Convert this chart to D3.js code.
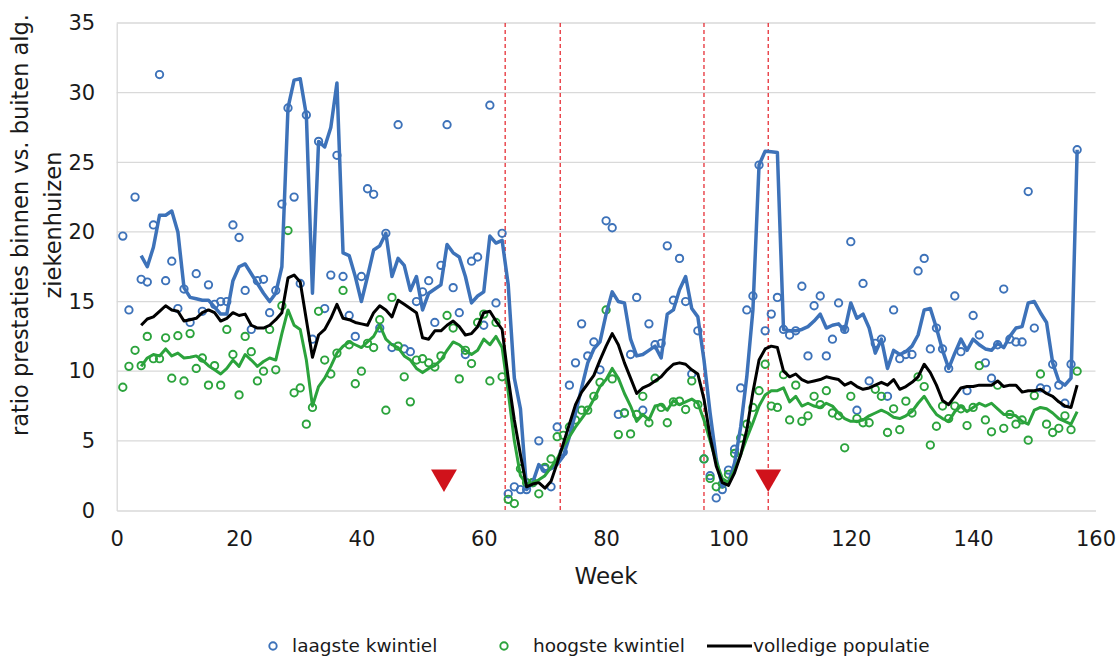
<!DOCTYPE html>
<html lang="nl">
  <head>
    <meta charset="UTF-8" />
    <title>Ratio prestaties</title>
    <script src="https://d3js.org/d3.v7.min.js"></script>
    <style>
      body { margin: 0; background: #fff; }
      text { font-family: "DejaVu Sans", Verdana, sans-serif; fill: #1a1a1a; }
    </style>
  </head>
  <body>
    <div id="chart"></div>
  </body>
</html>

<script>
  // weekly ratios, week 1..157
  const laagsteKwintiel = [
    19.7, 14.4, 22.5, 16.6, 16.4, 20.5, 31.3, 16.5, 17.9, 14.5,
    15.9, 13.5, 17.0, 14.3, 16.2, 14.8, 15.0, 15.0, 20.5, 19.6,
    15.8, 13.0, 16.5, 16.6, 14.2, 15.8, 22.0, 28.9, 22.5, 16.3,
    28.4, 12.3, 26.5, 14.5, 16.9, 25.5, 16.8, 14.0, 12.5, 16.8,
    23.1, 22.7, 13.1, 19.9, 11.7, 27.7, 11.6, 11.4, 15.0, 15.7,
    16.5, 13.5, 17.6, 27.7, 16.0, 14.2, 11.2, 17.9, 18.2, 13.3,
    29.1, 14.9, 19.9, 1.2, 1.7, 1.5, 1.5, 2.0, 5.0, 3.0,
    1.7, 6.0, 4.2, 9.0, 10.6, 13.4, 11.1, 12.1, 10.1, 20.8,
    20.3, 6.9, 7.0, 11.2, 15.3, 7.2, 13.4, 11.9, 12.0, 19.0,
    15.1, 18.1, 15.0, 9.8, 12.9, 3.7, 2.5, 0.9, 1.5, 2.9,
    4.4, 8.8, 14.4, 15.4, 24.8, 12.9, 14.1, 15.3, 13.0, 12.6,
    12.9, 16.1, 11.1, 14.7, 15.4, 11.1, 12.3, 14.9, 13.0, 19.3,
    7.2, 16.3, 9.3, 12.0, 12.3, 8.2, 14.4, 10.9, 11.2, 11.2,
    17.2, 18.1, 11.6, 13.1, 11.6, 10.2, 15.4, 11.4, 8.6, 14.0,
    12.6, 10.6, 9.5, 11.9, 15.9, 12.3, 12.1, 12.1, 22.9, 13.1,
    8.8, 8.7, 10.5, 9.0, 7.7, 10.5, 25.9
  ]

  const hoogsteKwintiel = [
    8.85, 10.35, 11.5, 10.4, 12.5, 10.9, 10.9, 12.4, 9.5, 12.55,
    9.3, 12.7, 10.2, 10.95, 9.0, 10.4, 9.0, 13.0, 11.2, 8.3,
    12.5, 11.4, 9.3, 10.0, 13.0, 10.1, 14.7, 20.1, 8.45, 8.8,
    6.2, 7.4, 14.3, 10.8, 9.8, 11.3, 15.8, 11.9, 9.1, 10.0,
    12.0, 11.7, 13.7, 7.2, 15.3, 11.8, 9.6, 7.8, 10.8, 10.9,
    10.6, 10.3, 11.1, 14.0, 13.1, 9.45, 11.5, 10.55, 13.5, 14.1,
    9.3, 13.5, 9.6, 0.8, 0.5, 3.0, 2.0, 2.0, 1.2, 3.1,
    3.7, 5.3, 5.4, 6.0, 6.5, 7.2, 7.2, 8.2, 9.2, 14.4,
    9.45, 5.45, 7.0, 5.5, 6.9, 8.2, 6.3, 9.5, 7.4, 6.3,
    7.8, 7.85, 7.25, 9.3, 7.6, 3.7, 2.3, 1.7, 1.9, 2.6,
    4.1, 5.2, 6.2, 7.4, 8.6, 10.5, 7.5, 7.4, 9.75, 6.5,
    9.0, 6.4, 6.8, 8.2, 7.6, 8.6, 7.0, 6.8, 4.5, 8.2,
    6.6, 6.3, 6.3, 8.7, 8.2, 5.6, 7.3, 5.8, 7.85, 7.0,
    9.6, 8.9, 4.7, 6.05, 7.5, 6.6, 7.5, 7.3, 6.1, 7.4,
    10.4, 6.5, 5.65, 9.0, 5.9, 6.9, 6.2, 6.5, 5.05, 8.25,
    9.8, 6.2, 5.6, 5.9, 6.8, 5.8, 10.0
  ]

  // smoothed lines, week 4..157
  const lijnStartWeek = 4

  const lijnLaagste = [
    18.3, 17.5, 18.9, 21.2, 21.2, 21.5, 20.0, 16.0, 15.3, 15.2,
    15.1, 15.1, 14.6, 14.1, 14.1, 16.5, 17.5, 17.7, 17.0, 16.3,
    15.6, 15.0, 15.6, 17.5, 28.9, 30.9, 31.0, 28.4, 15.6, 26.5,
    26.1, 27.5, 30.7, 18.5, 18.3, 16.8, 15.0, 16.8, 18.7, 19.0,
    19.9, 16.8, 18.1, 17.6, 15.8, 16.8, 14.4, 15.6, 15.9, 16.2,
    19.1, 18.5, 18.2, 16.8, 14.9, 15.4, 15.7, 19.7, 19.2, 19.4,
    16.2, 9.5, 7.3, 1.5, 2.0, 3.3, 2.8, 3.0, 3.3, 3.9,
    5.3, 7.0, 8.8, 10.6, 11.6, 12.1, 14.1, 15.7, 15.0, 14.9,
    12.3, 11.1, 11.2, 11.5, 11.8, 10.95, 14.1, 14.4, 15.85, 16.8,
    14.5, 13.9, 10.8, 7.0, 3.7, 1.7, 2.0, 3.4, 6.0, 9.6,
    14.4, 24.8, 25.8, 25.75, 25.7, 13.0, 12.9, 12.9, 13.0, 13.2,
    13.6, 14.1, 13.1, 13.3, 13.4, 12.9, 14.9, 13.8, 14.1, 13.1,
    11.3, 12.3, 10.2, 11.5, 11.2, 11.4, 11.8, 12.6, 14.4, 14.5,
    13.1, 11.5, 10.2, 11.3, 12.3, 11.5, 12.3, 11.9, 11.6, 11.5,
    12.0, 11.7, 12.5, 13.1, 13.2, 14.9, 15.0, 14.2, 13.5, 10.6,
    9.3, 9.0, 9.5, 25.9
  ]

  const lijnHoogste = [
    10.35, 10.95, 11.2, 11.1, 11.6, 11.1, 11.3, 10.95, 11.0, 11.1,
    10.8, 10.4, 10.1, 9.8, 10.2, 10.8, 10.35, 11.2, 10.8, 10.35,
    10.7, 10.95, 10.8, 12.7, 14.4, 13.3, 13.0, 10.8, 7.5, 8.9,
    9.5, 10.35, 11.3, 11.8, 12.1, 11.9, 11.7, 12.1, 12.5, 13.3,
    12.3, 11.9, 11.7, 11.1, 10.8, 10.2, 9.9, 10.2, 10.4, 10.8,
    11.5, 12.1, 11.9, 11.5, 11.2, 11.5, 12.3, 11.9, 12.5, 11.7,
    8.5, 5.0, 2.5, 1.9, 2.0, 2.2, 2.5, 3.1, 3.7, 4.6,
    5.3, 6.0, 6.6, 7.2, 8.0, 8.9, 9.4, 10.2, 9.5, 8.4,
    7.5, 6.4, 6.9, 6.5, 7.5, 7.6, 7.2, 7.9, 7.6, 7.8,
    8.0, 7.7, 6.5, 5.0, 3.5, 2.3, 2.0, 2.9, 4.0, 5.2,
    6.3, 7.5, 8.3, 8.6, 8.6, 8.8, 7.8, 8.2, 7.5, 7.7,
    7.5, 7.4, 7.7, 7.5, 7.0, 6.6, 6.4, 6.4, 6.5, 6.8,
    7.0, 7.2, 7.0, 6.7, 6.6, 6.8, 7.1, 7.7, 8.2, 7.5,
    6.9, 6.6, 6.4, 7.1, 7.5, 7.1, 7.4, 7.7, 7.5, 7.7,
    7.3, 6.9, 6.9, 6.8, 6.4, 6.2, 7.2, 7.4, 7.3, 7.0,
    6.6, 6.4, 6.2, 7.1
  ]

  const volledigePopulatie = [
    13.3, 13.75, 13.9, 14.3, 14.7, 14.4, 14.3, 13.6, 13.7, 13.8,
    14.2, 14.4, 14.2, 13.6, 13.8, 14.2, 14.0, 14.1, 13.3, 13.1,
    13.1, 13.3, 13.7, 14.2, 16.7, 16.9, 16.4, 13.7, 11.0, 12.6,
    13.0, 13.8, 14.8, 13.8, 13.7, 13.5, 13.4, 13.3, 14.2, 14.7,
    14.4, 13.9, 15.1, 14.8, 14.5, 14.2, 12.4, 12.3, 12.9, 12.9,
    13.3, 13.6, 13.2, 12.6, 12.7, 13.2, 14.2, 14.3, 13.6, 13.0,
    9.5, 6.5, 4.0, 1.7, 1.9, 2.0, 1.6, 2.1, 3.4, 4.8,
    6.2, 7.6, 8.5, 9.1, 9.7, 10.8, 11.8, 12.7, 11.9, 10.6,
    9.5, 8.4, 8.8, 9.0, 9.3, 9.6, 10.1, 10.5, 10.6, 10.5,
    10.1, 9.8, 8.0, 5.3, 3.2, 2.0, 1.8, 2.7, 4.0, 5.8,
    8.5, 10.8, 11.6, 11.8, 11.7, 10.0, 9.6, 9.8, 9.4, 9.2,
    9.3, 9.4, 9.6, 9.5, 9.4, 9.0, 9.2, 8.9, 8.7, 8.8,
    9.0, 9.2, 9.0, 9.4, 8.7, 8.9, 9.2, 9.6, 10.5, 9.9,
    9.0, 7.9, 7.6, 8.2, 8.8, 8.9, 8.9, 9.0, 9.0, 9.0,
    9.3, 8.9, 9.0, 9.0, 8.5, 8.6, 8.6, 8.7, 8.4, 8.2,
    7.8, 7.5, 7.4, 9.0
  ]

  // markers
  const peilWeken = [63.5, 72.5, 96, 106.5] // dashed red lines
  const driehoekWeken = [53.5, 106.5] // red triangles
  const driehoekHoogte = 2.4

  const xTicks = [0, 20, 40, 60, 80, 100, 120, 140, 160]
  const yTicks = [0, 5, 10, 15, 20, 25, 30, 35]

  const kleurBlauw = "#3d72b9"
  const kleurGroen = "#2ba33c"
  const kleurRood = "#e41e26"

  const width = 1117
  const height = 657

  const svg = d3
    .select("#chart")
    .append("svg")
    .attr("width", width)
    .attr("height", height)

  const x = d3.scaleLinear().domain([0, 160]).range([116.7, 1095.5])
  const y = d3.scaleLinear().domain([0, 35]).range([510.5, 23])

  // gridlines
  svg
    .append("g")
    .selectAll("line")
    .data(yTicks.slice(1))
    .enter()
    .append("line")
    .attr("x1", x(0))
    .attr("x2", x(160))
    .attr("y1", (d) => y(d))
    .attr("y2", (d) => y(d))
    .attr("stroke", "#d9d9d9")
    .attr("stroke-width", 1.3)

  // axes
  const yAxis = svg
    .append("g")
    .attr("transform", `translate(${x(0)},0)`)
    .call(d3.axisLeft(y).tickValues(yTicks).tickSize(0).tickPadding(21.5))
  yAxis.select(".domain").attr("stroke", "#d9d9d9").attr("stroke-width", 1.3)
  yAxis.selectAll("text").style("font-size", "21px").attr("fill", "#1a1a1a")

  const xAxis = svg
    .append("g")
    .attr("transform", `translate(0,${y(0)})`)
    .call(d3.axisBottom(x).tickValues(xTicks).tickSize(0).tickPadding(21))
  xAxis.select(".domain").attr("stroke", "#d9d9d9").attr("stroke-width", 1.3)
  xAxis.selectAll("text").style("font-size", "21px").attr("fill", "#1a1a1a")

  // axis titles
  svg
    .append("text")
    .attr("x", x(80))
    .attr("y", 584)
    .attr("text-anchor", "middle")
    .style("font-size", "23px")
    .text("Week")

  const yTitel = svg
    .append("text")
    .attr("transform", "translate(28,225) rotate(-90)")
    .attr("text-anchor", "middle")
    .style("font-size", "22.5px")
  yTitel.append("tspan").attr("x", 0).attr("y", 0).text("ratio prestaties binnen vs. buiten alg.")
  yTitel.append("tspan").attr("x", 0).attr("y", 33).text("ziekenhuizen")

  // dashed reference lines
  svg
    .append("g")
    .selectAll("line")
    .data(peilWeken)
    .enter()
    .append("line")
    .attr("x1", (d) => x(d))
    .attr("x2", (d) => x(d))
    .attr("y1", y(35))
    .attr("y2", y(0))
    .attr("stroke", kleurRood)
    .attr("stroke-width", 1.2)
    .attr("stroke-dasharray", "4,3")

  const weken = laagsteKwintiel.map((d, i) => i + 1)

  // scatter points
  const punten = (data, kleur) =>
    svg
      .append("g")
      .selectAll("circle")
      .data(data)
      .enter()
      .append("circle")
      .attr("cx", (d, i) => x(weken[i]))
      .attr("cy", (d) => y(d))
      .attr("r", 3.7)
      .attr("fill", "none")
      .attr("stroke", kleur)
      .attr("stroke-width", 1.9)

  punten(laagsteKwintiel, kleurBlauw)
  punten(hoogsteKwintiel, kleurGroen)

  // lines
  const lijn = d3
    .line()
    .x((d, i) => x(lijnStartWeek + i))
    .y((d) => y(d))

  const tekenLijn = (data, kleur, breedte) =>
    svg
      .append("path")
      .datum(data)
      .attr("d", lijn)
      .attr("fill", "none")
      .attr("stroke", kleur)
      .attr("stroke-width", breedte)
      .attr("stroke-linejoin", "round")

  tekenLijn(lijnLaagste, kleurBlauw, 3.5)
  tekenLijn(lijnHoogste, kleurGroen, 3)
  tekenLijn(volledigePopulatie, "#000", 3)

  // triangles
  svg
    .append("g")
    .selectAll("path")
    .data(driehoekWeken)
    .enter()
    .append("path")
    .attr("d", d3.symbol().type(d3.symbolTriangle).size(290))
    .attr("transform", (d) => `translate(${x(d)},${y(driehoekHoogte)}) rotate(180)`)
    .attr("fill", "#d0121b")

  // legend
  const legend = svg.append("g").attr("transform", "translate(0,646)")

  legend
    .append("circle")
    .attr("cx", 273)
    .attr("cy", 0)
    .attr("r", 3.7)
    .attr("fill", "none")
    .attr("stroke", kleurBlauw)
    .attr("stroke-width", 1.9)
  legend.append("text").attr("x", 292).attr("y", 6).style("font-size", "18.5px").text("laagste kwintiel")

  legend
    .append("circle")
    .attr("cx", 504)
    .attr("cy", 0)
    .attr("r", 3.7)
    .attr("fill", "none")
    .attr("stroke", kleurGroen)
    .attr("stroke-width", 1.9)
  legend.append("text").attr("x", 533).attr("y", 6).style("font-size", "18.5px").text("hoogste kwintiel")

  legend
    .append("line")
    .attr("x1", 707)
    .attr("x2", 752)
    .attr("y1", 0)
    .attr("y2", 0)
    .attr("stroke", "#000")
    .attr("stroke-width", 3)
  legend.append("text").attr("x", 753).attr("y", 6).style("font-size", "18.5px").text("volledige populatie")
</script>
